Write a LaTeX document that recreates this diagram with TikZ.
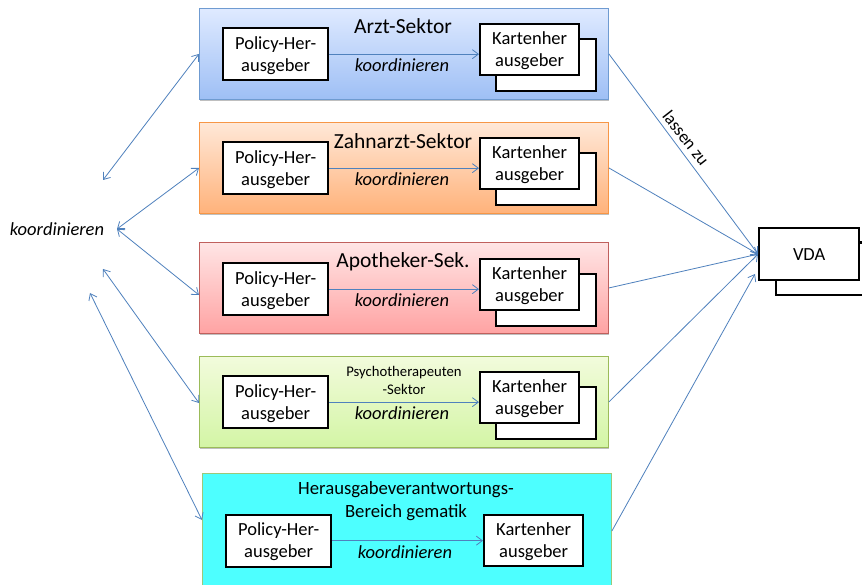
\documentclass[tikz,border=0pt]{standalone}
\usepackage{fontspec}
\setmainfont{Carlito}
\usetikzlibrary{shadows,arrows.meta,calc}
\definecolor{linkblue}{HTML}{4F81BD}
\definecolor{aT}{HTML}{DFEAFF}\definecolor{aB}{HTML}{9EBFF5}\definecolor{aL}{HTML}{6F9BD1}
\definecolor{zT}{HTML}{FFE8D8}\definecolor{zB}{HTML}{FFB27A}\definecolor{zL}{HTML}{F79646}
\definecolor{pT}{HTML}{FFE5E5}\definecolor{pB}{HTML}{FFA3A3}\definecolor{pL}{HTML}{C0605D}
\definecolor{gT}{HTML}{F2FBDC}\definecolor{gB}{HTML}{D3F5A5}\definecolor{gL}{HTML}{9BBB59}
\definecolor{hF}{HTML}{4DFFFF}\definecolor{hL}{HTML}{9BC87A}
\newcommand{\cardlines}[2]{\raisebox{-6.2pt}[0pt][0pt]{\begin{tabular}{@{}c@{}}#1\\#2\end{tabular}}}
\tikzset{
  sector/.style={draw=#1, line width=0.9pt, rectangle, inner sep=0pt, minimum width=409pt, minimum height=91pt, anchor=north west,
    drop shadow={shadow xshift=1pt, shadow yshift=-1.5pt, fill=black, opacity=0.25}},
  card/.style={draw=black, fill=white, line width=2.3pt, rectangle, inner sep=0pt, anchor=north west, align=center, font=\fontsize{18.5}{22}\selectfont},
  policy/.style={card, minimum width=105pt, minimum height=52pt},
  issuer/.style={card, minimum width=99pt, minimum height=51pt},
  backcard/.style={draw=black, fill=white, line width=2.3pt, rectangle, inner sep=0pt, anchor=north west, minimum width=100pt, minimum height=52pt},
  link/.style={draw=linkblue, line width=0.8pt, -{Straight Barb[length=6pt,width=9pt,line width=0.8pt]}},
  dlink/.style={draw=linkblue, line width=0.8pt, {Straight Barb[length=6pt,width=9pt,line width=0.8pt]}-{Straight Barb[length=6pt,width=9pt,line width=0.8pt]}},
  ktext/.style={font=\fontsize{18.5}{22}\selectfont\itshape, inner sep=0pt},
  title/.style={font=\fontsize{21.5}{24}\selectfont, inner sep=0pt, align=center},
}
\begin{document}
\begin{tikzpicture}[x=1pt,y=-1pt]
\clip (0,0) rectangle (862,585);
\fill[white] (0,0) rectangle (862,585);
% sectors
\node[sector={aL}, top color=aT, bottom color=aB] (s1) at (199,8) {};
\node[sector={zL}, top color=zT, bottom color=zB] (s2) at (199,122) {};
\node[sector={pL}, top color=pT, bottom color=pB] (s3) at (199,242) {};
\node[sector={gL}, top color=gT, bottom color=gB] (s4) at (199,356) {};
\node[sector={hL}, fill=hF, minimum height=115pt] (s5) at (202,473) {};
% rows
\node[backcard] (b1) at (495,38) {};
\node[backcard] (b2) at (495,152) {};
\node[backcard] (b3) at (495,273) {};
\node[backcard] (b4) at (495,386) {};
\node[policy] (p1) at (222,27) {\cardlines{Policy-Her-}{ausgeber}};
\node[policy] (p2) at (222,141) {\cardlines{Policy-Her-}{ausgeber}};
\node[policy] (p3) at (222,262) {\cardlines{Policy-Her-}{ausgeber}};
\node[policy] (p4) at (222,375) {\cardlines{Policy-Her-}{ausgeber}};
\node[policy] (p5) at (225,513.5) {\cardlines{Policy-Her-}{ausgeber}};
\node[issuer] (k1) at (479,23) {\cardlines{Kartenher}{ausgeber}};
\node[issuer] (k2) at (479,137) {\cardlines{Kartenher}{ausgeber}};
\node[issuer] (k3) at (479,258) {\cardlines{Kartenher}{ausgeber}};
\node[issuer] (k4) at (479,371) {\cardlines{Kartenher}{ausgeber}};
\node[issuer] (k5) at (483,514) {\cardlines{Kartenher}{ausgeber}};
\foreach \i in {1,...,5} \draw[link] (p\i.east) -- (k\i.west |- p\i.east);
% titles
\node[title] (t1) at (403,26) {Arzt-Sektor};
\node[title] (t2) at (403,141) {Zahnarzt-Sektor};
\node[title] (t3) at (403,262) {Apotheker-Sek.};
\node[font=\fontsize{14.7}{18}\selectfont, inner sep=0pt, align=center] (t4) at (404,380) {Psychotherapeuten\\-Sektor};
\node[font=\fontsize{18.7}{23}\selectfont, inner sep=0pt, align=center] (t5) at (406,501.5) {Herausgabeverantwortungs-\\Bereich gematik};
\node[ktext] (c1) at (402,65.5) {koordinieren};
\node[ktext] (c2) at (402,179.5) {koordinieren};
\node[ktext] (c3) at (402,300.5) {koordinieren};
\node[ktext] (c4) at (402,413.5) {koordinieren};
\node[ktext] (c5) at (405,552.5) {koordinieren};
\node[ktext] (c0) at (57,229.5) {koordinieren};
% VDA
\node[backcard] (vb) at (775,242) {};
\node[card, minimum width=100pt, minimum height=52pt] (vda) at (758,227) {VDA};
\draw[black, line width=2.3pt] (858,242) -- (870,242);
% connectors
\coordinate (l1) at (103,180);
\coordinate (l2) at (117,229);
\coordinate (l4) at (103,269);
\coordinate (l5) at (90,293);
\coordinate (a3) at (199,295);
\coordinate (a4) at (199,403);
\coordinate (a5) at (202,520);
\coordinate (a2) at (199,168);
\coordinate (e5) at (755,274);
\draw[dlink] (l1) -- (s1.west);
\draw[dlink] (l2) -- (a2);
\draw[dlink] (l2) -- (a3);
\draw[dlink] (l4) -- (a4);
\draw[dlink] (l5) -- (a5);
\draw[link] (s1.east) -- (vda.west);
\draw[link] (s2.east) -- (vda.west);
\draw[link] (s3.east) -- (vda.west);
\draw[link] (s4.east) -- (vda.west);
\draw[link] (s5.east) -- (e5);
\node[font=\fontsize{17.5}{20}\selectfont, inner sep=0pt, rotate=-52] (lz) at (686,138) {lassen zu};
\end{tikzpicture}
\end{document}
